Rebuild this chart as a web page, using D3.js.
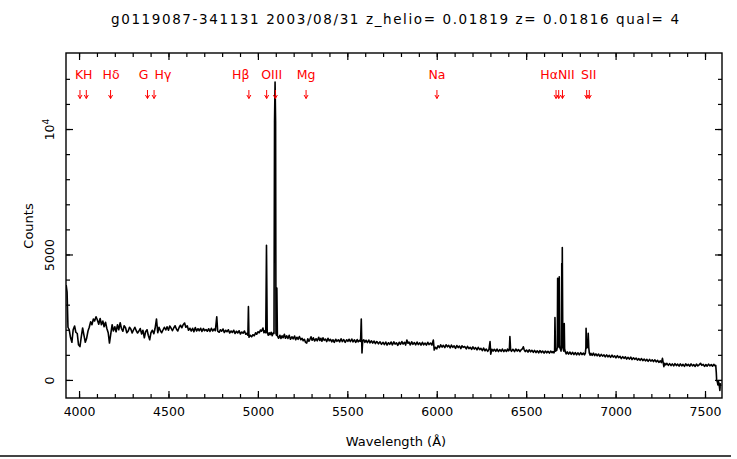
<!DOCTYPE html>
<html>
<head>
<meta charset="utf-8">
<script src="https://cdn.jsdelivr.net/npm/d3@7"></script>
<style>
  html, body { margin: 0; padding: 0; background: #fff; }
  svg { display: block; font-family: "DejaVu Sans", sans-serif; }
</style>
</head>
<body>
<svg id="chart" width="737" height="459"></svg>
<script>
var title = "g0119087-341131 2003/08/31 z_helio= 0.01819 z= 0.01816 qual= 4";
var redshift = 0.01816;

// [wavelength (A), counts]
var spectrum = [
  [3928, 3780], [3933, 3500], [3938, 2100], [3945, 2000], [3952, 1700], [3960, 1500], [3967, 2000], [3975, 2150],
  [3982, 1900], [3990, 1850], [3997, 1400], [4005, 1330], [4012, 1700], [4020, 2070], [4027, 1800], [4035, 1500],
  [4042, 1650], [4050, 1950], [4057, 2100], [4065, 2320], [4072, 2200], [4080, 2430], [4087, 2350], [4095, 2520],
  [4102, 2400], [4110, 2220], [4118, 2450], [4125, 2200], [4133, 2350], [4140, 2120], [4148, 2300], [4155, 2060],
  [4163, 1880], [4170, 1470], [4177, 1820], [4185, 2200], [4192, 1950], [4200, 2120], [4207, 1920], [4215, 2200],
  [4222, 2000], [4230, 2280], [4237, 2050], [4245, 1940], [4252, 2160], [4260, 2080], [4267, 1880], [4275, 1950],
  [4282, 2100], [4290, 2020], [4297, 1870], [4305, 2000], [4312, 2100], [4320, 1960], [4327, 1870], [4335, 1950],
  [4342, 2050], [4350, 1830], [4357, 1980], [4365, 1680], [4372, 1920], [4380, 2000], [4387, 1780], [4395, 1600],
  [4402, 1880], [4410, 1980], [4418, 1840], [4425, 2050], [4433, 2430], [4440, 1880], [4447, 2100], [4455, 1960],
  [4462, 1880], [4470, 2000], [4477, 2100], [4485, 1990], [4492, 2120], [4500, 1980], [4507, 2150], [4515, 2060],
  [4522, 1960], [4530, 2080], [4537, 2160], [4545, 2020], [4552, 1950], [4560, 2100], [4567, 2180], [4575, 2080],
  [4582, 2200], [4590, 2270], [4597, 2100], [4605, 2160], [4612, 1980], [4620, 2060], [4627, 1950], [4635, 2060],
  [4642, 1920], [4650, 2090], [4657, 1950], [4665, 2040], [4672, 1960], [4680, 2060], [4687, 1930], [4695, 2050],
  [4702, 1960], [4710, 2010], [4717, 1940], [4725, 2040], [4732, 1930], [4740, 2060], [4747, 1950], [4755, 2030],
  [4762, 1960], [4770, 2520], [4775, 1950], [4784, 1900], [4790, 2000], [4797, 1940], [4805, 2030], [4812, 1890],
  [4820, 1980], [4827, 1920], [4835, 2000], [4842, 1870], [4850, 1950], [4857, 1890], [4865, 1980], [4872, 1850],
  [4880, 1940], [4887, 1870], [4895, 1960], [4902, 1830], [4910, 1910], [4917, 1860], [4925, 1950], [4932, 1820],
  [4938, 1860], [4944, 1780], [4947, 2920], [4950, 1700], [4957, 1780], [4965, 1720], [4972, 1800], [4980, 1760],
  [4987, 1880], [4993, 1820], [5000, 1920], [5008, 1880], [5014, 1990], [5020, 1940], [5028, 2070], [5034, 1880],
  [5038, 1960], [5044, 1880], [5048, 5370], [5052, 1900], [5058, 1780], [5063, 1880], [5068, 1800], [5074, 1900],
  [5080, 1760], [5086, 1880], [5090, 1850], [5093, 10280], [5096, 11870], [5099, 10280], [5101, 1850], [5104, 1780],
  [5106, 3660], [5109, 1760], [5116, 1660], [5123, 1780], [5129, 1650], [5135, 1760], [5141, 1680], [5148, 1820],
  [5154, 1660], [5161, 1760], [5168, 1650], [5175, 1780], [5182, 1620], [5190, 1720], [5197, 1640], [5205, 1750],
  [5211, 1600], [5218, 1700], [5225, 1620], [5232, 1730], [5240, 1600], [5247, 1660], [5253, 1560], [5260, 1620],
  [5266, 1500], [5273, 1470], [5279, 1640], [5285, 1540], [5291, 1620], [5297, 1720], [5303, 1580], [5310, 1680],
  [5317, 1550], [5325, 1640], [5332, 1560], [5340, 1700], [5346, 1570], [5352, 1660], [5358, 1540], [5364, 1680],
  [5371, 1580], [5378, 1630], [5385, 1530], [5392, 1660], [5399, 1560], [5406, 1620], [5413, 1520], [5420, 1600],
  [5427, 1500], [5435, 1620], [5442, 1540], [5450, 1600], [5457, 1520], [5465, 1640], [5472, 1530], [5480, 1610],
  [5488, 1500], [5496, 1600], [5503, 1540], [5510, 1620], [5517, 1530], [5525, 1630], [5532, 1520], [5540, 1600],
  [5547, 1500], [5555, 1610], [5561, 1520], [5568, 1580], [5574, 1540], [5578, 2430], [5582, 1075], [5586, 1560],
  [5592, 1600], [5598, 1500], [5605, 1580], [5612, 1490], [5620, 1590], [5627, 1480], [5635, 1560], [5642, 1470],
  [5650, 1550], [5657, 1450], [5665, 1530], [5674, 1440], [5683, 1520], [5691, 1420], [5700, 1500], [5707, 1410],
  [5715, 1510], [5722, 1390], [5730, 1480], [5737, 1420], [5745, 1510], [5752, 1400], [5760, 1520], [5767, 1430],
  [5775, 1480], [5782, 1380], [5790, 1500], [5797, 1420], [5805, 1530], [5812, 1430], [5820, 1500], [5826, 1390],
  [5833, 1590], [5839, 1460], [5845, 1510], [5852, 1400], [5860, 1520], [5867, 1420], [5875, 1490], [5882, 1400],
  [5890, 1510], [5897, 1410], [5905, 1480], [5912, 1390], [5920, 1500], [5927, 1400], [5935, 1470], [5942, 1390],
  [5950, 1500], [5957, 1410], [5965, 1470], [5973, 1390], [5981, 1590], [5986, 1190], [5992, 1300], [6000, 1240],
  [6007, 1360], [6015, 1290], [6022, 1400], [6030, 1310], [6037, 1380], [6045, 1290], [6052, 1400], [6060, 1320],
  [6067, 1380], [6075, 1280], [6082, 1390], [6090, 1300], [6097, 1360], [6105, 1260], [6112, 1370], [6120, 1290],
  [6127, 1350], [6135, 1250], [6141, 1360], [6148, 1300], [6156, 1330], [6165, 1240], [6172, 1340], [6180, 1250],
  [6187, 1300], [6195, 1220], [6202, 1320], [6210, 1230], [6217, 1290], [6225, 1200], [6232, 1300], [6240, 1210],
  [6247, 1260], [6255, 1170], [6262, 1270], [6270, 1160], [6277, 1230], [6285, 1140], [6292, 1220], [6298, 1530],
  [6302, 1030], [6308, 1220], [6315, 1150], [6322, 1220], [6330, 1140], [6337, 1230], [6345, 1130], [6352, 1210],
  [6360, 1140], [6367, 1230], [6375, 1130], [6382, 1200], [6390, 1140], [6396, 1230], [6402, 1160], [6406, 1200],
  [6409, 1730], [6413, 1200], [6418, 1140], [6426, 1220], [6435, 1130], [6442, 1230], [6450, 1150], [6457, 1210],
  [6465, 1130], [6472, 1200], [6480, 1250], [6484, 1320], [6489, 1200], [6495, 1130], [6502, 1190], [6510, 1110],
  [6517, 1200], [6525, 1120], [6532, 1180], [6540, 1100], [6547, 1180], [6555, 1090], [6562, 1160], [6570, 1080],
  [6577, 1170], [6585, 1090], [6592, 1150], [6600, 1070], [6607, 1150], [6615, 1080], [6622, 1140], [6630, 1070],
  [6637, 1150], [6645, 1090], [6650, 1130], [6655, 1080], [6659, 1150], [6661, 2490], [6664, 1150], [6671, 1180],
  [6674, 1300], [6676, 4050], [6680, 1400], [6684, 1300], [6685, 4110], [6688, 1300], [6695, 1150], [6698, 1400],
  [6699, 4640], [6701, 3000], [6702, 5280], [6705, 1300], [6710, 1150], [6712, 1300], [6713, 2250], [6715, 1250],
  [6719, 1120], [6724, 1040], [6730, 1120], [6737, 1030], [6745, 1110], [6752, 1020], [6760, 1100], [6767, 1010],
  [6775, 1090], [6782, 1000], [6790, 1080], [6797, 1000], [6805, 1090], [6812, 1010], [6820, 1070], [6826, 1000],
  [6831, 1070], [6834, 1300], [6835, 2055], [6838, 1400], [6841, 1280], [6845, 1350], [6847, 1860], [6850, 1300],
  [6853, 1080], [6858, 990], [6862, 1060], [6869, 980], [6876, 1070], [6883, 970], [6890, 1040], [6897, 960],
  [6905, 1030], [6912, 940], [6920, 1020], [6927, 950], [6935, 1000], [6942, 920], [6950, 1000], [6957, 920],
  [6965, 980], [6972, 900], [6980, 990], [6987, 910], [6995, 960], [7002, 880], [7010, 970], [7017, 890],
  [7025, 940], [7032, 850], [7040, 930], [7047, 860], [7055, 920], [7062, 830], [7070, 900], [7077, 830],
  [7085, 910], [7092, 810], [7100, 880], [7107, 820], [7115, 870], [7122, 790], [7130, 850], [7137, 780],
  [7145, 850], [7152, 770], [7160, 830], [7167, 760], [7175, 820], [7182, 740], [7190, 820], [7197, 750],
  [7205, 800], [7212, 730], [7220, 800], [7227, 720], [7235, 780], [7242, 700], [7250, 760], [7256, 690],
  [7262, 860], [7266, 700], [7270, 530], [7275, 660], [7280, 600], [7287, 660], [7295, 580], [7302, 650],
  [7310, 570], [7317, 640], [7325, 560], [7332, 650], [7340, 570], [7347, 630], [7355, 550], [7362, 640],
  [7370, 560], [7377, 620], [7385, 540], [7392, 640], [7400, 570], [7407, 620], [7415, 550], [7422, 640],
  [7430, 560], [7437, 610], [7445, 540], [7452, 630], [7460, 560], [7467, 600], [7475, 665], [7482, 580],
  [7490, 620], [7497, 540], [7505, 610], [7512, 550], [7520, 630], [7527, 560], [7535, 610], [7542, 550],
  [7550, 620], [7556, 560], [7560, 580], [7563, 300], [7565, 0], [7569, -80], [7572, -200], [7575, -60],
  [7578, -130], [7581, -300], [7583, -420], [7586, -150], [7588, -250]
];

// rest-frame wavelengths of the marked lines
var restLines = [3933.7, 3968.5, 4101.7, 4304.4, 4340.5, 4861.3, 4958.9, 5006.8, 5175.4, 5894.0,
                 6548.1, 6562.8, 6583.4, 6716.4, 6730.8];
var lineLabels = ["KH", "Hδ", "G", "Hγ", "Hβ", "OIII", "Mg", "Na", "HαNII", "SII"];
var labelWave = [4026, 4179, 4361, 4469, 4904, 5077, 5269, 6001, 6675, 6850];

var xTicks = [4000, 4500, 5000, 5500, 6000, 6500, 7000, 7500];
var yTicks = [0, 5000, 10000];

var svg = d3.select("#chart"),
    plotL = 66, plotR = 722, plotT = 53, plotB = 398;

var x = d3.scaleLinear().domain([3927, 7595]).range([plotL, plotR]);
var y = d3.scaleLinear().domain([-720, 13030]).range([plotB, plotT]);

// title
svg.append("text")
  .attr("x", 395).attr("y", 24)
  .attr("text-anchor", "middle")
  .attr("font-size", 13.5)
  .attr("textLength", 568).attr("lengthAdjust", "spacing")
  .text(title);

svg.append("clipPath").attr("id", "clip")
  .append("rect").attr("x", plotL).attr("y", plotT).attr("width", plotR - plotL).attr("height", plotB - plotT);

// spectrum
var line = d3.line()
  .x(function(d) { return x(d[0]) })
  .y(function(d) { return y(d[1]) });

svg.append("path")
  .datum(spectrum)
  .attr("clip-path", "url(#clip)")
  .attr("fill", "none")
  .attr("stroke", "#000")
  .attr("stroke-width", 1.6)
  .attr("stroke-linejoin", "round")
  .attr("d", line);

// axes: all ticks point inward
function styleAxis(g) {
  g.select(".domain").remove();
  g.selectAll("line").attr("stroke", "#000").attr("stroke-width", 1.2);
  g.selectAll("text").attr("fill", "#000").attr("font-family", "DejaVu Sans, sans-serif").attr("font-size", 12.5);
}

var xMinor = d3.range(4000, 7600, 100);
var yMinor = d3.range(0, 12001, 1000);

svg.append("g").attr("transform", "translate(0," + plotB + ")")
  .call(d3.axisBottom(x).tickValues(xMinor).tickFormat("").tickSize(-4).tickSizeOuter(0)).call(styleAxis);
svg.append("g").attr("transform", "translate(0," + plotB + ")")
  .call(d3.axisBottom(x).tickValues(xTicks).tickFormat(d3.format("d")).tickSize(-7).tickPadding(9).tickSizeOuter(0))
  .call(styleAxis);
svg.append("g").attr("transform", "translate(0," + plotT + ")")
  .call(d3.axisTop(x).tickValues(xMinor).tickFormat("").tickSize(-4).tickSizeOuter(0)).call(styleAxis);
svg.append("g").attr("transform", "translate(0," + plotT + ")")
  .call(d3.axisTop(x).tickValues(xTicks).tickFormat("").tickSize(-7).tickSizeOuter(0)).call(styleAxis);

svg.append("g").attr("transform", "translate(" + plotL + ",0)")
  .call(d3.axisLeft(y).tickValues(yMinor).tickFormat("").tickSize(-4).tickSizeOuter(0)).call(styleAxis);
var yAxis = svg.append("g").attr("transform", "translate(" + plotL + ",0)")
  .call(d3.axisLeft(y).tickValues(yTicks).tickFormat(d3.format("d")).tickSize(-7).tickSizeOuter(0))
  .call(styleAxis);
svg.append("g").attr("transform", "translate(" + plotR + ",0)")
  .call(d3.axisRight(y).tickValues(yMinor).tickFormat("").tickSize(-4).tickSizeOuter(0)).call(styleAxis);
svg.append("g").attr("transform", "translate(" + plotR + ",0)")
  .call(d3.axisRight(y).tickValues(yTicks).tickFormat("").tickSize(-7).tickSizeOuter(0)).call(styleAxis);

// rotated y labels, 10^4 with superscript
yAxis.selectAll(".tick text").each(function(d) {
  var t = d3.select(this).attr("x", null).attr("dy", null)
    .attr("text-anchor", "middle")
    .attr("transform", "translate(-12.5,0) rotate(-90)");
  if (d === 10000) {
    t.text("10");
    t.append("tspan").attr("dy", "-0.45em").attr("font-size", 9).text("4");
  }
});

// frame
svg.append("rect")
  .attr("x", plotL).attr("y", plotT).attr("width", plotR - plotL).attr("height", plotB - plotT)
  .attr("fill", "none").attr("stroke", "#000").attr("stroke-width", 1.4);

// axis titles
svg.append("text")
  .attr("x", 396).attr("y", 446)
  .attr("text-anchor", "middle").attr("font-size", 13)
  .text("Wavelength (Å)");
svg.append("text")
  .attr("transform", "translate(33,226) rotate(-90)")
  .attr("text-anchor", "middle").attr("font-size", 13)
  .text("Counts");

// line identifications
svg.append("g").selectAll("text")
  .data(lineLabels)
  .enter().append("text")
  .attr("x", function(d, i) { return x(labelWave[i]) })
  .attr("y", 79)
  .attr("text-anchor", "middle")
  .attr("font-size", 12.5)
  .attr("fill", "#ff0000")
  .text(function(d) { return d });

svg.append("g").selectAll("path")
  .data(restLines)
  .enter().append("path")
  .attr("fill", "none")
  .attr("stroke", "#ff0000")
  .attr("stroke-width", 1)
  .attr("d", function(d) {
    var px = x(d * (1 + redshift));
    return "M" + px + ",90V98.5M" + (px - 2) + ",95L" + px + ",98.5L" + (px + 2) + ",95";
  });

// rule under the figure
svg.append("line")
  .attr("x1", 0).attr("x2", 731).attr("y1", 456).attr("y2", 456)
  .attr("stroke", "#444").attr("stroke-width", 2);
</script>
</body>
</html>
